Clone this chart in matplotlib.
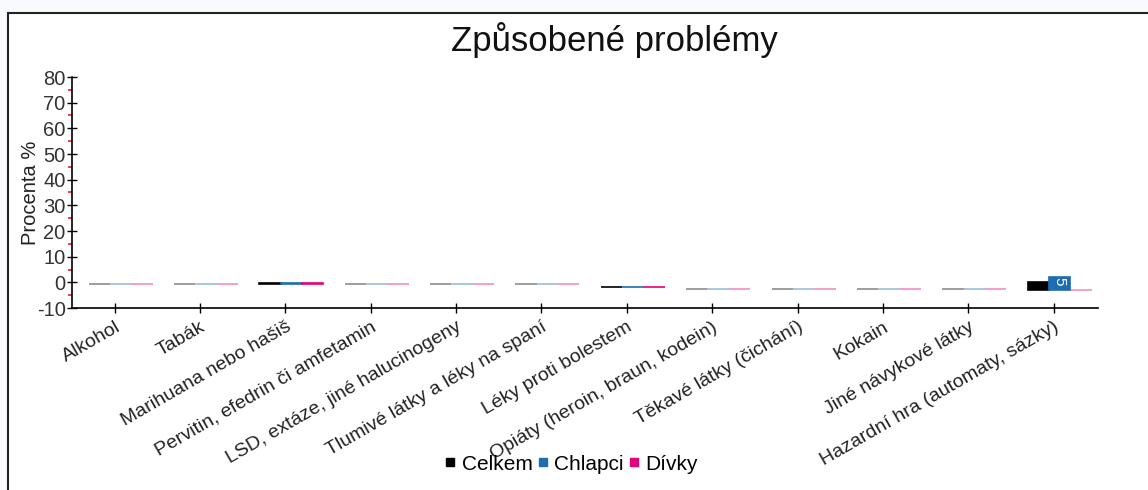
import numpy as np
import matplotlib
matplotlib.use("Agg")
import matplotlib.pyplot as plt
from matplotlib.patches import Rectangle
from matplotlib.lines import Line2D

plt.rcParams['font.family'] = ['Liberation Sans', 'DejaVu Sans']
plt.rcParams['axes.unicode_minus'] = False

# data
kategorie = ['Alkohol', 'Tabák', 'Marihuana nebo hašiš', 'Pervitin, efedrin či amfetamin',
             'LSD, extáze, jiné halucinogeny', 'Tlumivé látky a léky na spaní',
             'Léky proti bolestem', 'Opiáty (heroin, braun, kodein)', 'Těkavé látky (čichání)',
             'Kokain', 'Jiné návykové látky', 'Hazardní hra (automaty, sázky)']
celkem  = [0, 0, 0.3, 0, 0, 0, 0.3, 0, 0, 0, 0, 2.9]
chlapci = [0, 0, 0.3, 0, 0, 0, 0.3, 0, 0, 0, 0, 5]
divky   = [0, 0, 0.3, 0, 0, 0, 0.3, 0, 0, 0, 0, 0]
# bar baselines as drawn in the source chart
zaklad  = [-0.75, -0.75, -0.5, -0.75, -0.75, -0.75, -2.0, -2.6, -2.6, -2.6, -2.6, -2.8]
popisky_chlapci = ['', '', '', '', '', '', '', '', '', '', '', '5']

serie = [('Celkem', celkem, '#000000'),
         ('Chlapci', chlapci, '#1f6db1'),
         ('Dívky', divky, '#e5007d')]

fig = plt.figure(figsize=(11.48, 4.90), dpi=100)
fig.patch.set_facecolor('#f9fafd')
# white panel with frame
fig.patches.append(Rectangle((8 / 1148, -0.05), 1.2, 1 - 13 / 490 + 0.05,
                             transform=fig.transFigure, facecolor='white',
                             edgecolor='#222222', linewidth=1.5, zorder=-1))

ax = fig.add_axes([72 / 1148, 1 - 308 / 490, (1098 - 72) / 1148, (308 - 77) / 490])
ax.set_facecolor('none')
ax.set_zorder(1)

x = np.arange(len(kategorie))
w = 0.25
for i, (nazev, hodnoty, barva) in enumerate(serie):
    pos = x + (i - 1) * w + 0.07
    for j in range(len(x)):
        v = hodnoty[j]
        alpha = 1.0 if v > 0 else 0.45
        ax.bar(pos[j], v, w, bottom=zaklad[j], color=barva, edgecolor=barva,
               linewidth=1.2, alpha=alpha, zorder=3)
    if nazev == 'Chlapci':
        for j, t in enumerate(popisky_chlapci):
            if t:
                ax.text(pos[j], zaklad[j] + hodnoty[j] - 0.3, t, rotation=-90,
                        ha='center', va='top', color='white', fontsize=11, zorder=4)

ax.set_xlim(-0.5, 11.52)
ax.set_ylim(-10, 80)
ax.set_yticks(np.arange(-10, 81, 10))
ax.set_yticks(np.arange(-5, 80, 10), minor=True)
ax.tick_params(axis='y', which='major', direction='inout', length=7, width=1,
               labelsize=14.5, pad=1, colors='black')
ax.tick_params(axis='y', which='minor', direction='out', length=3, width=1.2, color='#e8202a')
ax.set_yticklabels([str(v) for v in range(-10, 81, 10)], color='#333333')
ax.set_xticks(x)
ax.set_xticklabels(kategorie, rotation=30, ha='right', rotation_mode='anchor',
                   fontsize=14, color='#222222')
ax.tick_params(axis='x', direction='inout', length=7, width=1, pad=4)
for s in ['top', 'right']:
    ax.spines[s].set_visible(False)
for s in ['left', 'bottom']:
    ax.spines[s].set_linewidth(1.2)

ax.set_ylabel('Procenta %', fontsize=14.5, color='#222222', va='center')
ax.yaxis.set_label_coords(-0.040, 0.5)

fig.text(614 / 1148, 1 - 40 / 490, 'Způsobené problémy', ha='center', va='center',
         fontsize=25, color='#111111')

handles = [Line2D([], [], marker='s', linestyle='none', markersize=6, color=c, label=n)
           for n, _, c in serie]
fig.legend(handles=handles, loc='center', bbox_to_anchor=(571 / 1148, 1 - 464 / 490),
           ncol=3, frameon=False, fontsize=15, handletextpad=0.25, columnspacing=0.2,
           handlelength=0.6, borderpad=0)

fig.savefig('out.png', dpi=100, facecolor=fig.get_facecolor())
